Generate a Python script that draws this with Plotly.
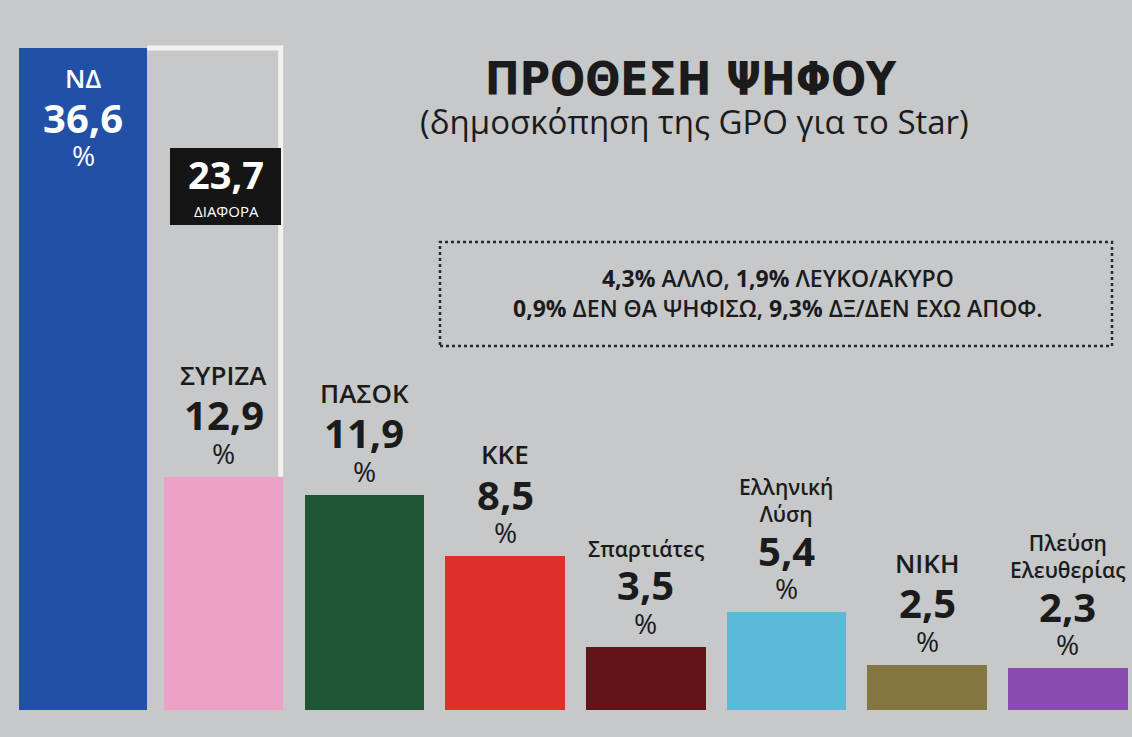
import plotly.graph_objects as go

# ── data ─────────────────────────────────────────────────────────
parties = ["ΝΔ", "ΣΥΡΙΖΑ", "ΠΑΣΟΚ", "ΚΚΕ", "Σπαρτιάτες",
           "Ελληνική<br>Λύση", "ΝΙΚΗ", "Πλεύση<br>Ελευθερίας"]
values = [36.6, 12.9, 11.9, 8.5, 3.5, 5.4, 2.5, 2.3]
colors = ["#2150a6", "#eea1c6", "#1e5535", "#de2f28", "#621418",
          "#5cb9d8", "#847640", "#8a4cb0"]

title = "ΠΡΟΘΕΣΗ ΨΗΦΟΥ"
subtitle = "(δημοσκόπηση της GPO για το Star)"
other_line1 = "<b>4,3%</b> ΑΛΛΟ, <b>1,9%</b> ΛΕΥΚΟ/ΑΚΥΡΟ"
other_line2 = "<b>0,9%</b> ΔΕΝ ΘΑ ΨΗΦΙΣΩ, <b>9,3%</b> ΔΞ/ΔΕΝ ΕΧΩ ΑΠΟΦ."

W, H = 1132, 737
BG = "#c6c8ca"
INK = "#1b1b1b"
NUM_FONT = "Noto Sans"
TXT_FONT = "Open Sans, Noto Sans"
TITLE_FONT = "Liberation Sans Narrow, DejaVu Sans Condensed, Noto Sans"


def fmt(v):
    return f"{v:.1f}".replace(".", ",")


def px(x):
    return x / W


def py(y):
    return 1 - y / H


xs = list(range(len(parties)))
widths = [0.91] + [0.85] * (len(parties) - 1)

fig = go.Figure(go.Bar(
    x=xs, y=values, width=widths,
    marker=dict(color=colors, line=dict(width=0)),
    hoverinfo="skip",
))

# ── white "difference" outline between ΝΔ and ΣΥΡΙΖΑ ───────────────
x_left = xs[0] + widths[0] / 2
x_right = xs[1] + widths[1] / 2 - 0.02
fig.add_shape(type="path",
              path=f"M {x_left},{values[0]} L {x_right},{values[0]} L {x_right},{values[1]}",
              xref="x", yref="y", line=dict(color="#f4f2ee", width=5), layer="below")

# ── labels above / inside bars ────────────────────────────────────
ann = []
for i, (name, v) in enumerate(zip(parties, values)):
    if i == 0:
        col = "white"
        shifts = (-30, -70, -107)
    else:
        col = INK
        shifts = (83, 62, 24)
    size = 26 if name.replace("<br>", "").isupper() else 21
    ann.append(dict(x=i, y=v, xref="x", yref="y", text=name, showarrow=False,
                    yshift=shifts[0], yanchor="bottom" if i else "middle", borderpad=0,
                    font=dict(family=TXT_FONT, size=size, color=col, weight=600)))
    ann.append(dict(x=i, y=v, xref="x", yref="y", text=f"<b>{fmt(v)}</b>", showarrow=False,
                    yshift=shifts[1], yanchor="middle", borderpad=0,
                    font=dict(family=NUM_FONT, size=40, color=col, weight=900)))
    ann.append(dict(x=i, y=v, xref="x", yref="y", text="%", showarrow=False,
                    yshift=shifts[2], yanchor="middle", borderpad=0,
                    font=dict(family=TXT_FONT, size=28, color=col)))

# difference box
diff = values[0] - values[1]
fig.add_shape(type="rect", xref="paper", yref="paper",
              x0=px(170), x1=px(281), y0=py(225), y1=py(148),
              fillcolor="#161515", line=dict(width=0), layer="above")
ann.append(dict(x=px(226), y=py(174), xref="paper", yref="paper",
                xanchor="center", yanchor="middle",
                text=f"<b>{fmt(diff)}</b>", showarrow=False,
                font=dict(family=NUM_FONT, size=38, color="white")))
ann.append(dict(x=px(226), y=py(211), xref="paper", yref="paper",
                xanchor="center", yanchor="middle",
                text="ΔΙΑΦΟΡΑ", showarrow=False,
                font=dict(family=TXT_FONT, size=15, color="white")))

# title + subtitle
ann.append(dict(x=px(691), y=py(79), xref="paper", yref="paper",
                xanchor="center", yanchor="middle",
                text=f"<b>{title}</b>", showarrow=False,
                font=dict(family=TITLE_FONT, size=46, color=INK)))
ann.append(dict(x=px(694), y=py(121), xref="paper", yref="paper",
                xanchor="center", yanchor="middle",
                text=subtitle, showarrow=False,
                font=dict(family=TXT_FONT, size=33, color=INK)))

# dotted box with the rest of the answers
fig.add_shape(type="rect", xref="paper", yref="paper",
              x0=px(440), x1=px(1112), y0=py(346), y1=py(242),
              line=dict(color="#2a2a2a", width=2.5, dash="dot"))
ann.append(dict(x=px(778), y=py(293), xref="paper", yref="paper",
                xanchor="center", yanchor="middle",
                text=f"{other_line1}<br>{other_line2}", showarrow=False,
                font=dict(family=TXT_FONT, size=23, color=INK, weight=600)))

fig.update_layout(
    width=W, height=H,
    margin=dict(l=0, r=0, t=0, b=0),
    paper_bgcolor=BG, plot_bgcolor=BG,
    showlegend=False,
    bargap=0,
    annotations=ann,
    xaxis=dict(range=[-0.59, 7.456], visible=False, fixedrange=True),
    yaxis=dict(range=[-1.49, 39.25], visible=False, fixedrange=True),
)

fig.write_html("out.html", config={"displayModeBar": False},
               post_script="document.body.style.margin='0';")
